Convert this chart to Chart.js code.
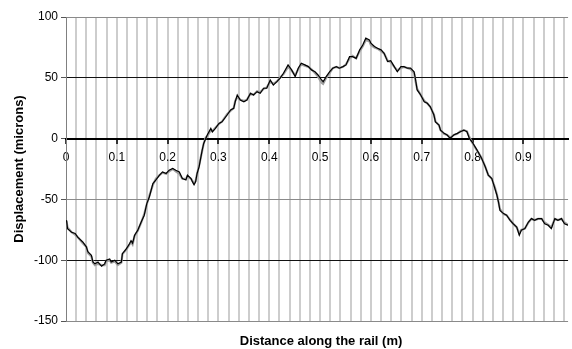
<!DOCTYPE html>
<html>
<head>
<meta charset="utf-8">
<script src="https://cdn.jsdelivr.net/npm/chart.js@4/dist/chart.umd.min.js"></script>
<style>
html,body{margin:0;padding:0;background:#fff;}
#c{display:block;}
</style>
</head>
<body>
<canvas id="c" width="572" height="349"></canvas>
<script>
// Distance along the rail (m)
const xs = [
0.001,0.003,0.011,0.018,0.023,0.033,0.040,0.043,0.050,0.053,
0.057,0.063,0.070,0.076,0.079,0.086,0.089,0.096,0.102,0.109,
0.111,0.119,0.125,0.128,0.131,0.135,0.141,0.148,0.154,0.159,
0.164,0.171,0.177,0.184,0.190,0.197,0.203,0.210,0.216,0.223,
0.229,0.236,0.239,0.246,0.249,0.252,0.255,0.258,0.262,0.265,
0.268,0.271,0.275,0.278,0.285,0.288,0.294,0.301,0.307,0.317,
0.324,0.330,0.333,0.337,0.343,0.350,0.356,0.363,0.369,0.376,
0.382,0.389,0.395,0.402,0.408,0.415,0.421,0.428,0.437,0.444,
0.451,0.457,0.463,0.470,0.477,0.483,0.490,0.496,0.503,0.506,
0.512,0.519,0.525,0.532,0.538,0.545,0.551,0.558,0.564,0.571,
0.578,0.584,0.590,0.597,0.600,0.607,0.613,0.620,0.626,0.633,
0.639,0.646,0.652,0.659,0.665,0.672,0.678,0.685,0.688,0.691,
0.698,0.705,0.711,0.717,0.724,0.727,0.734,0.737,0.744,0.750,
0.756,0.763,0.770,0.776,0.783,0.789,0.794,0.799,0.809,0.818,
0.825,0.831,0.838,0.844,0.848,0.851,0.854,0.861,0.867,0.874,
0.880,0.887,0.892,0.896,0.903,0.910,0.916,0.922,0.929,0.936,
0.942,0.949,0.955,0.962,0.968,0.975,0.981,0.988
];
// Displacement, black trace (microns)
const blackY = [
-67,-74,-77,-78,-81,-85,-89,-93,-96,-101.5,
-103,-101.5,-105,-103,-100,-99,-101.5,-100,-103,-101.5,
-94.6,-90.5,-86.5,-84,-86,-79.5,-75.5,-68.6,-63,-53.5,
-48,-37,-34,-30,-27.4,-28.7,-26,-24.6,-26,-27.4,
-32.8,-34,-30,-32.8,-35.6,-38,-35.6,-28.7,-23,-16.3,
-9.5,-4,0,3,8.4,5.6,8.4,12.5,13.8,19.4,
23.5,24.9,30.3,35.9,31.7,30.3,31.7,37.3,35.9,38.6,
37.3,41.4,41.4,48.2,44,46.8,49.6,53.7,60.6,56.5,
51,57.9,62,60.6,59.2,56.5,55,52.3,48.2,46.8,
51,55,57.9,59.2,57.9,59.2,60.6,67.4,67.4,66,
73,77,82.6,81.2,78.5,75.7,74.3,73,70.2,63.3,
64,59.2,55,59.2,59.2,57.9,57.9,55,48.2,40,
35.9,30.3,29,26.2,19.4,13.8,11.1,7,4.3,2.9,
0.2,2.9,4.3,5.6,7,5.6,0,-2.6,-9.5,-16.3,
-23.2,-30,-32.8,-41,-46.6,-52,-59,-61.7,-63,-67.2,
-70,-72.7,-79.5,-75.4,-74,-68.6,-65.8,-67.2,-65.8,-65.8,
-70,-71.3,-74,-65.8,-67.2,-65.8,-70,-71.3
];
// Displacement, grey trace (microns)
const greyY = [
-68,-73,-77,-79,-81,-86,-89,-94,-97,-102,
-104,-103,-104,-104,-101,-100,-102,-101,-104,-102,
-95,-91,-87,-85,-87,-80,-76,-69,-62,-54,
-47,-38,-33,-30,-28,-29,-27,-25,-27,-29,
-33,-33,-31,-33,-35,-37,-35,-29,-22,-16,
-10,-4,1,2,7,6,9,12,14,20,
23,25,31,34,32,31,32,37,36,39,
38,41,42,47,45,47,50,53,59,56,
52,57,61,60,59,57,54,51,46,45,
50,54,58,59,58,59,61,66,68,66,
72,76,81,80,77,75,74,72,70,64,
63,59,56,58,59,58,57,54,47,41,
36,31,29,26,20,14,11,7,4,3,
1,3,4,6,7,6,1,-3,-10,-16,
-23,-30,-33,-40,-46,-52,-58,-62,-63,-67,
-70,-73,-78,-75,-74,-69,-66,-67,-66,-66,
-69,-71,-73,-66,-67,-66,-69,-71
];
const xTickLabels = ['0','0.1','0.2','0.3','0.4','0.5','0.6','0.7','0.8','0.9'];
const xTitle = 'Distance along the rail (m)';
const yTitle = 'Displacement (microns)';

const FONT = '"Liberation Sans", Arial, sans-serif';
function isMajor(v){ const i = Math.round(v*10); return Math.abs(v*10 - i) < 1e-6; }
const yGridColors = {'100':'#8a8a8a','50':'#111','0':'#000','-50':'#8a8a8a','-100':'#111','-150':'#8a8a8a'};

const axisTitles = {
  id: 'axisTitles',
  afterDraw(chart){
    const {ctx, chartArea: a} = chart;
    ctx.save();
    ctx.fillStyle = '#000';
    ctx.font = 'bold 13px ' + FONT;
    ctx.textAlign = 'center';
    ctx.textBaseline = 'middle';
    ctx.fillText(xTitle, (a.left + a.right) / 2 + 4, 341);
    ctx.translate(19, (a.top + a.bottom) / 2);
    ctx.rotate(-Math.PI / 2);
    ctx.fillText(yTitle, 0, 0);
    ctx.restore();
  }
};

new Chart(document.getElementById('c'), {
  type: 'line',
  data: {
    datasets: [
      { label: 'black', data: xs.map((x,i)=>({x:x, y:blackY[i]})), borderColor: '#000', borderWidth: 1.2, pointRadius: 0, tension: 0, fill: false },
      { label: 'grey', data: xs.map((x,i)=>({x:x, y:greyY[i]})), borderColor: '#a0a0a0', borderWidth: 2.2, pointRadius: 0, tension: 0, fill: false }
    ]
  },
  options: {
    responsive: false,
    animation: false,
    devicePixelRatio: 1,
    layout: { padding: { top: 17, bottom: 28, left: 0, right: 0 } },
    plugins: { legend: { display: false }, tooltip: { enabled: false }, title: { display: false } },
    scales: {
      x: {
        type: 'linear',
        position: { y: 0 },
        min: 0, max: 0.988,
        border: { display: true, color: '#000', width: 2 },
        grid: {
          color: (c) => (c.tick && Math.abs(c.tick.value) < 1e-9) ? 'rgba(0,0,0,0)' : '#cdcdcd',
          lineWidth: 2,
          drawTicks: true,
          tickLength: 4,
          tickWidth: 1.5,
          tickColor: (c) => (c.tick && isMajor(c.tick.value)) ? '#000' : 'rgba(0,0,0,0)'
        },
        ticks: {
          stepSize: 0.02,
          includeBounds: false,
          autoSkip: false,
          maxRotation: 0,
          padding: 8,
          color: '#000',
          font: { family: FONT, size: 12 },
          callback: (v) => { if (!isMajor(v)) return ''; const i = Math.round(v*10); return xTickLabels[i] !== undefined ? xTickLabels[i] : ''; }
        }
      },
      y: {
        type: 'linear',
        position: 'left',
        min: -150, max: 100,
        afterFit: (s) => { s.width = 66; },
        border: { display: true, color: '#808080', width: 1 },
        grid: {
          color: (c) => (c.tick ? (yGridColors[String(c.tick.value)] || '#000') : '#000'),
          lineWidth: 1,
          drawTicks: true,
          tickLength: 5,
          tickColor: '#555'
        },
        ticks: {
          stepSize: 50,
          padding: 3,
          color: '#000',
          font: { family: FONT, size: 12 }
        }
      }
    }
  },
  plugins: [axisTitles]
});
</script>
</body>
</html>
